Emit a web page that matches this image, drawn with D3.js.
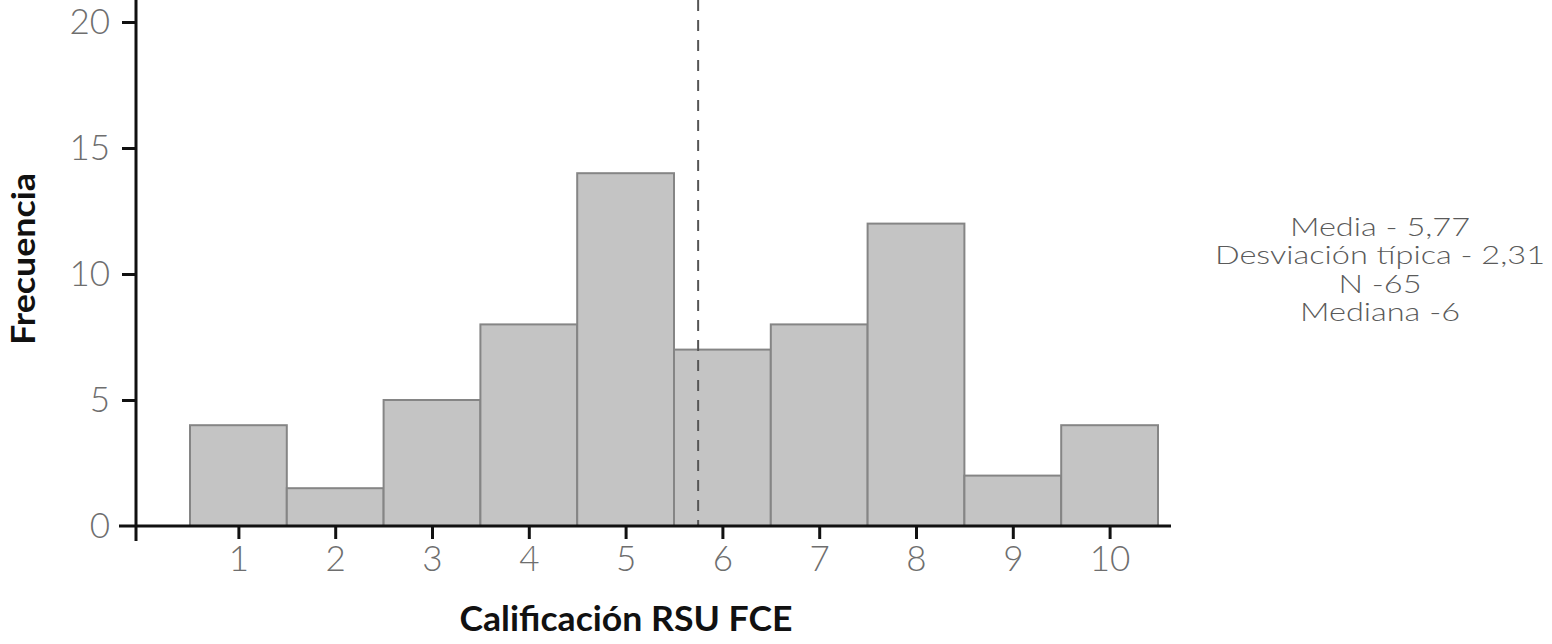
<!DOCTYPE html>
<html>
<head>
<meta charset="utf-8">
<script src="https://cdn.jsdelivr.net/npm/d3@7"></script>
<style>
  html, body { margin: 0; padding: 0; background: #fff; }
  svg { display: block; }
</style>
</head>
<body>
<svg id="chart" width="1552" height="644"></svg>
<script>
const categories = [1, 2, 3, 4, 5, 6, 7, 8, 9, 10];
const frequencies = [4, 1.5, 5, 8, 14, 7, 8, 12, 2, 4];
const yTicks = [0, 5, 10, 15, 20];
const meanValue = 5.77;
const statsLines = ['Media - 5,77', 'Desviación típica - 2,31', 'N -65', 'Mediana -6'];

const COLORS = {
    barFill: '#c4c4c4',
    barStroke: '#858585',
    axis: '#111',
    tickText: '#6e6e6e',
    statsText: '#5a5a5a',
    dash: '#555'
}

const FONT = 'Lato, "Open Sans", sans-serif';

const svg = d3.select('#chart');

const x = d3.scaleLinear().domain([0.5, 10.5]).range([190, 1158]);
const y = d3.scaleLinear().domain([0, 20]).range([526, 22]);

// barras
svg.append('g').selectAll('rect')
    .data(categories)
    .enter()
    .append('rect')
    .attr('x', (d) => x(d - 0.5))
    .attr('y', (d, i) => y(frequencies[i]))
    .attr('width', (d) => x(d + 0.5) - x(d - 0.5))
    .attr('height', (d, i) => y(0) - y(frequencies[i]))
    .style('fill', COLORS.barFill)
    .style('stroke', COLORS.barStroke)
    .style('stroke-width', 2);

// línea de la media
svg.append('line')
    .attr('x1', x(meanValue) - 2)
    .attr('x2', x(meanValue) - 2)
    .attr('y1', 0)
    .attr('y2', y(0))
    .style('stroke', COLORS.dash)
    .style('stroke-width', 2)
    .style('stroke-dasharray', '11,9');

// eje Y
const yAxis = svg.append('g')
    .attr('transform', 'translate(136,0)')
    .call(d3.axisLeft(y).tickValues(yTicks).tickSize(14).tickPadding(12));
yAxis.select('.domain').remove();
yAxis.selectAll('.tick line').style('stroke', COLORS.axis).style('stroke-width', 3);
yAxis.selectAll('.tick').filter((d) => d === 0).select('line').remove();
yAxis.selectAll('.tick text')
    .attr('font-family', FONT)
    .attr('font-weight', 300)
    .attr('font-size', 35)
    .style('fill', COLORS.tickText);

// eje X
const xAxis = svg.append('g')
    .attr('transform', 'translate(0,' + y(0) + ')')
    .call(d3.axisBottom(x).tickValues(categories).tickSize(13).tickPadding(7).tickFormat(d3.format('d')));
xAxis.select('.domain').remove();
xAxis.selectAll('.tick line').style('stroke', COLORS.axis).style('stroke-width', 3);
xAxis.selectAll('.tick text')
    .attr('font-family', FONT)
    .attr('font-weight', 300)
    .attr('font-size', 35)
    .style('fill', COLORS.tickText);

// líneas de los ejes
svg.append('line')
    .attr('x1', 119).attr('x2', 1171)
    .attr('y1', y(0)).attr('y2', y(0))
    .style('stroke', COLORS.axis).style('stroke-width', 3);
svg.append('line')
    .attr('x1', 136).attr('x2', 136)
    .attr('y1', 0).attr('y2', 541)
    .style('stroke', COLORS.axis).style('stroke-width', 3);

// títulos
svg.append('text')
    .attr('x', 626)
    .attr('y', 631)
    .attr('text-anchor', 'middle')
    .attr('font-family', FONT)
    .attr('font-weight', 'bold')
    .attr('font-size', 34)
    .attr('textLength', 333)
    .attr('lengthAdjust', 'spacingAndGlyphs')
    .style('fill', COLORS.axis)
    .text('Calificación RSU FCE');

svg.append('text')
    .attr('transform', 'translate(35,259) rotate(-90)')
    .attr('text-anchor', 'middle')
    .attr('font-family', FONT)
    .attr('font-weight', 'bold')
    .attr('font-size', 33)
    .attr('textLength', 172)
    .attr('lengthAdjust', 'spacingAndGlyphs')
    .style('fill', COLORS.axis)
    .text('Frecuencia');

// estadísticos (letra algo ensanchada, como en el original)
svg.append('g').selectAll('text')
    .data(statsLines)
    .enter()
    .append('text')
    .attr('x', 1380)
    .attr('y', (d, i) => 236 + i * 28.3)
    .attr('text-anchor', 'middle')
    .attr('font-family', FONT)
    .attr('font-weight', 300)
    .attr('font-size', 25)
    .style('fill', COLORS.statsText)
    .text((d) => d)
    .each(function () {
        var w = this.getComputedTextLength();
        d3.select(this)
            .attr('textLength', w * 1.3)
            .attr('lengthAdjust', 'spacingAndGlyphs');
    });
</script>
</body>
</html>
